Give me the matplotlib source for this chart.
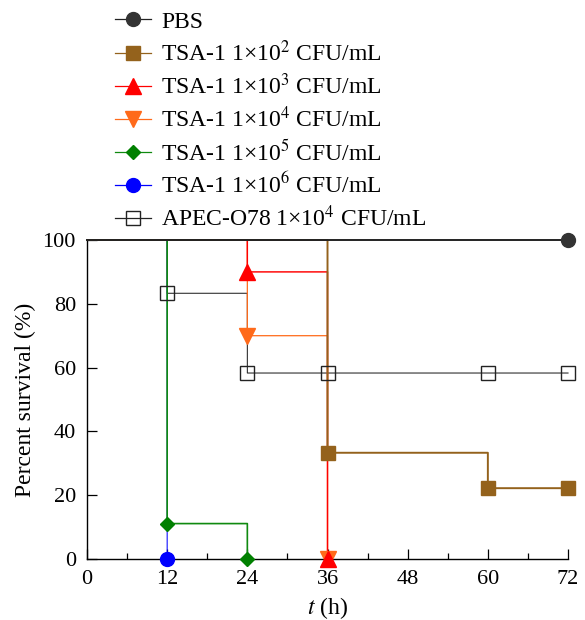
import matplotlib
matplotlib.use('Agg')
import matplotlib.pyplot as plt
from matplotlib.ticker import MultipleLocator

plt.rcParams['font.family'] = ['Liberation Serif', 'DejaVu Serif']
plt.rcParams['mathtext.fontset'] = 'stix'

# survival data (step curves), time in h, survival in %
pbs_t = [0, 72]
pbs_s = [100, 100]
e2_t = [0, 36, 60, 72]
e2_s = [100, 33.3, 22.2, 22.2]
e3_t = [0, 24, 36]
e3_s = [100, 90, 0]
e4_t = [0, 24, 36]
e4_s = [100, 70, 0]
e5_t = [0, 12, 24]
e5_s = [100, 11.1, 0]
e6_t = [0, 12]
e6_s = [100, 0]
apec_t = [0, 12, 24, 36, 60, 72]
apec_s = [100, 83.3, 58.3, 58.3, 58.3, 58.3]

labels = ['PBS',
          'TSA-1 1×10$^{2}$ CFU/mL',
          'TSA-1 1×10$^{3}$ CFU/mL',
          'TSA-1 1×10$^{4}$ CFU/mL',
          'TSA-1 1×10$^{5}$ CFU/mL',
          'TSA-1 1×10$^{6}$ CFU/mL',
          'APEC-O78 1×10$^{4}$ CFU/mL']

fig = plt.figure(figsize=(5.85, 6.2), dpi=100)
ax = fig.add_axes([0.1487, 0.0984, 0.8223, 0.5145])

# (t, s, colour, marker, face, label, zorder, line width)
series = [
    (pbs_t, pbs_s, '#222222', 'o', '#333333', labels[0], 8, 1.4),
    (e2_t, e2_s, '#94621C', 's', '#94621C', labels[1], 7, 1.4),
    (e3_t, e3_s, '#FF0000', '^', '#FF0000', labels[2], 5, 1.05),
    (e4_t, e4_s, '#FF6A1A', 'v', '#FF6A1A', labels[3], 4, 0.9),
    (e5_t, e5_s, '#108A10', 'D', '#008000', labels[4], 6, 1.2),
    (e6_t, e6_s, '#0000FF', 'o', '#0000FF', labels[5], 3, 0.75),
    (apec_t, apec_s, '#222222', 's', 'none', labels[6], 2, 0.75),
]

handles = []
for t, s, c, m, fc, lab, z, lw in series:
    ms = 7 if m == 'D' else (11 if m in '^v' else 10)
    mec = c if fc == 'none' else fc
    ax.step(t, s, where='post', color=c, lw=lw, clip_on=False, zorder=z,
            snap=False)
    ax.plot(t[1:], s[1:], ls='none', marker=m, ms=ms, mfc=fc, mec=mec,
            mew=1.0, clip_on=False, zorder=z + 10)
    handles.append(plt.Line2D([], [], color=c, lw=0.9, marker=m, ms=ms,
                              mfc=fc, mec=mec, mew=1.0))

fig.legend(handles, labels, loc='upper left', bbox_to_anchor=(0.197, 0.982),
           frameon=False, fontsize=17, handlelength=1.52, handletextpad=0.43,
           labelspacing=0.32, borderaxespad=0, borderpad=0)

ax.set_xlim(0, 72)
ax.set_ylim(0, 100)
ax.xaxis.set_major_locator(MultipleLocator(12))
ax.xaxis.set_minor_locator(MultipleLocator(6))
ax.yaxis.set_major_locator(MultipleLocator(20))
ax.tick_params(which='both', direction='in', labelsize=16, width=0.9)
ax.tick_params(which='major', length=7)
ax.tick_params(which='minor', length=4)
ax.tick_params(axis='x', pad=8)
ax.tick_params(axis='y', pad=8)
ax.spines['top'].set_visible(False)
ax.spines['right'].set_visible(False)
ax.spines['left'].set_linewidth(1.0)
ax.spines['bottom'].set_linewidth(1.0)

ax.set_xlabel('$t$ (h)', fontsize=17, labelpad=4)
ax.set_ylabel('Percent survival (%)', fontsize=17, labelpad=5)

fig.savefig('out.png', dpi=100)
